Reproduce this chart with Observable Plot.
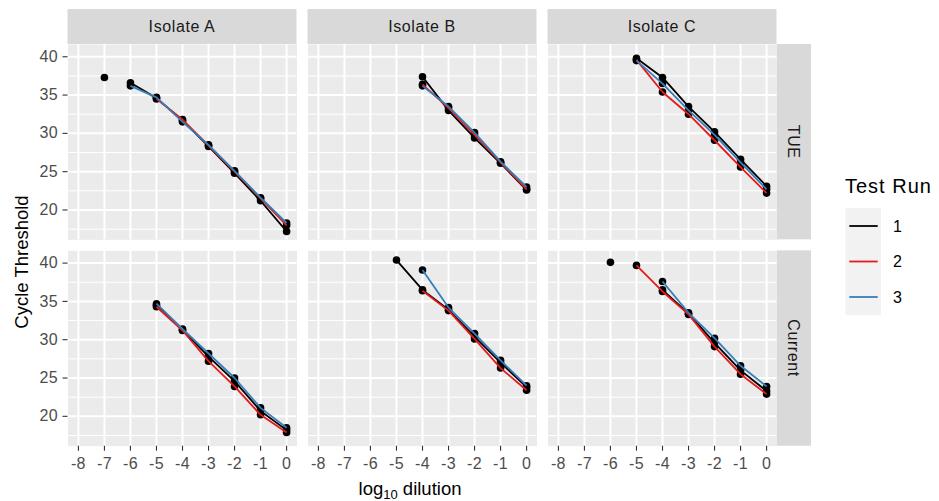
<!DOCTYPE html>
<html><head><meta charset="utf-8">
<script src="https://cdn.jsdelivr.net/npm/d3@7"></script>
<script src="https://cdn.jsdelivr.net/npm/@observablehq/plot@0.6"></script>
<style>
body{margin:0;background:#fff;}
svg{font-family:"Liberation Sans", Arial, sans-serif;}
</style>
</head><body><div id="chart"></div>
<script>
const dilutions = [-8,-7,-6,-5,-4,-3,-2,-1,0];
const isolates = ["Isolate A","Isolate B","Isolate C"];
const assays = ["TUE","Current"];
const runs = ["1","2","3"];
const runColors = ["#000000","#E41A1C","#377EB8"];
const yTicks = [20,25,30,35,40];
const yMinor = [17.5,22.5,27.5,32.5,37.5];

// Cycle threshold per dilution (-8 .. 0); one row per test run 1, 2, 3; null = no value
const ctIsolateA_TUE = [
  [null,null,36.6,34.6,31.7,28.3,24.8,21.2,17.2],
  [null,37.3,null,34.5,31.8,28.4,25.0,21.5,18.0],
  [null,null,36.2,34.7,31.5,28.5,25.1,21.6,18.3]];
const ctIsolateB_TUE = [
  [null,null,null,null,37.4,33.0,29.4,26.1,22.6],
  [null,null,null,null,36.4,33.3,29.8,26.2,22.7],
  [null,null,null,null,36.2,33.5,30.1,26.3,23.0]];
const ctIsolateC_TUE = [
  [null,null,null,39.8,37.3,33.5,30.2,26.6,23.1],
  [null,null,null,39.6,35.4,32.5,29.1,25.6,22.2],
  [null,null,null,39.5,36.5,33.0,29.8,26.2,22.7]];
const ctIsolateA_Current = [
  [null,null,null,34.5,31.3,27.8,24.6,20.7,18.2],
  [null,null,null,34.3,31.2,27.2,23.9,20.2,17.9],
  [null,null,null,34.7,31.4,28.2,25.0,21.1,18.5]];
const ctIsolateB_Current = [
  [null,null,null,40.4,36.5,33.9,30.4,27.0,23.8],
  [null,null,null,null,36.4,33.8,30.1,26.3,23.4],
  [null,null,null,null,39.1,34.2,30.8,27.3,24.0]];
const ctIsolateC_Current = [
  [null,null,40.1,null,36.5,33.4,29.6,26.0,23.3],
  [null,null,null,39.7,36.3,33.3,29.1,25.5,22.9],
  [null,null,null,null,37.6,33.5,30.2,26.6,23.9]];

const ctByPanel = {
  "Isolate A|TUE": ctIsolateA_TUE, "Isolate B|TUE": ctIsolateB_TUE, "Isolate C|TUE": ctIsolateC_TUE,
  "Isolate A|Current": ctIsolateA_Current, "Isolate B|Current": ctIsolateB_Current, "Isolate C|Current": ctIsolateC_Current
};
const table = [];
isolates.forEach(iso => assays.forEach(as => ctByPanel[iso + "|" + as].forEach((vals, i) =>
  vals.forEach((ct, j) => table.push({isolate: iso, assay: as, run: runs[i], dilution: dilutions[j], ct})))));

const W = 939, H = 501;
const mL = 67.5, mR = 162.5, mT = 44, mB = 55.3;
const FONT = "\"Liberation Sans\", Arial, sans-serif";

const plot = Plot.plot({
  width: W, height: H,
  marginLeft: mL, marginRight: mR, marginTop: mT, marginBottom: mB,
  style: {fontFamily: FONT, fontSize: "16px", background: "white", color: "#4D4D4D", overflow: "visible"},
  x: {domain: [-8.4, 0.4]},
  y: {domain: [16.1, 41.6]},
  fx: {domain: isolates, paddingInner: 11/240, paddingOuter: 0, round: false, axis: null, label: null},
  fy: {domain: assays, paddingInner: 11/206.4, paddingOuter: 0, round: false, axis: null, label: null},
  color: {domain: runs, range: runColors},
  marks: [
    Plot.frame({fill: "#EBEBEB", stroke: "none"}),
    Plot.ruleY(yMinor, {stroke: "white", strokeWidth: 1}),
    Plot.ruleY(yTicks, {stroke: "white", strokeWidth: 2}),
    Plot.ruleX(dilutions, {stroke: "white", strokeWidth: 2}),
    Plot.axisY({ticks: yTicks, tickSize: 5, tickPadding: 5, stroke: "#333333", fill: "#4D4D4D", strokeWidth: 1.1, label: null, fontSize: 16}),
    Plot.axisX({ticks: dilutions, tickFormat: d => String(d), tickSize: 5, tickPadding: 6.5, stroke: "#333333", fill: "#4D4D4D", strokeWidth: 1.1, label: null, fontSize: 16}),
    Plot.dot(table, {fx: "isolate", fy: "assay", x: "dilution", y: "ct", r: 3.8, fill: "black", stroke: "none"}),
    Plot.line(table, {fx: "isolate", fy: "assay", x: "dilution", y: "ct", z: "run", stroke: "run", strokeWidth: 1.8, strokeLinecap: "butt", strokeLinejoin: "round"})
  ]
});
document.getElementById("chart").appendChild(plot);

const svg = d3.select(plot);
svg.selectAll("text").style("letter-spacing", "0.4px");
const fxS = plot.scale("fx"), fyS = plot.scale("fy");
const fxBw = fxS.bandwidth, fyBw = fyS.bandwidth;
const strips = svg.append("g").attr("font-family", FONT).attr("font-size", 16).style("letter-spacing", "0.6px");
isolates.forEach(iso => {
  const x0 = fxS.apply(iso);
  strips.append("rect").attr("x", x0).attr("y", mT - 35).attr("width", fxBw).attr("height", 35).attr("fill", "#D9D9D9");
  strips.append("text").attr("x", x0 + fxBw / 2).attr("y", mT - 17.5).attr("dy", "0.35em")
    .attr("text-anchor", "middle").attr("fill", "#1A1A1A").text(iso);
});
const stripX = W - mR + 0.5;
assays.forEach(as => {
  const y0 = fyS.apply(as);
  strips.append("rect").attr("x", stripX).attr("y", y0).attr("width", 34).attr("height", fyBw).attr("fill", "#D9D9D9");
  strips.append("text").attr("transform", `translate(${stripX + 17},${y0 + fyBw / 2}) rotate(90)`).attr("dy", "0.35em")
    .attr("text-anchor", "middle").attr("fill", "#1A1A1A").text(as);
});

// axis titles
svg.append("text").attr("transform", `translate(28,262) rotate(-90)`)
  .attr("text-anchor", "middle").attr("font-family", FONT).attr("font-size", 18.5).attr("fill", "black").text("Cycle Threshold");
const xt = svg.append("text").attr("x", 410).attr("y", 495)
  .attr("text-anchor", "middle").attr("font-family", FONT).attr("font-size", 18.5).attr("fill", "black");
xt.append("tspan").text("log");
xt.append("tspan").attr("font-size", 13).attr("dy", 4).text("10");
xt.append("tspan").attr("dy", -4).text(" dilution");

// legend
const lg = svg.append("g").attr("font-family", FONT).attr("text-anchor", "start");
lg.append("text").attr("x", 845).attr("y", 193).attr("font-size", 20).style("letter-spacing", "1px")
  .attr("text-anchor", "start").attr("fill", "black").text("Test Run");
lg.append("rect").attr("x", 845.5).attr("y", 208).attr("width", 35.5).attr("height", 107).attr("fill", "#F2F2F2");
runs.forEach((r, i) => {
  const cy = 226 + i * 35.5;
  lg.append("line").attr("x1", 849.3).attr("x2", 877.7).attr("y1", cy).attr("y2", cy)
    .attr("stroke", runColors[i]).attr("stroke-width", 1.8);
  lg.append("text").attr("x", 893).attr("y", cy).attr("dy", "0.35em").attr("font-size", 16)
    .attr("text-anchor", "start").attr("fill", "black").text(r);
});
</script>
</body></html>
